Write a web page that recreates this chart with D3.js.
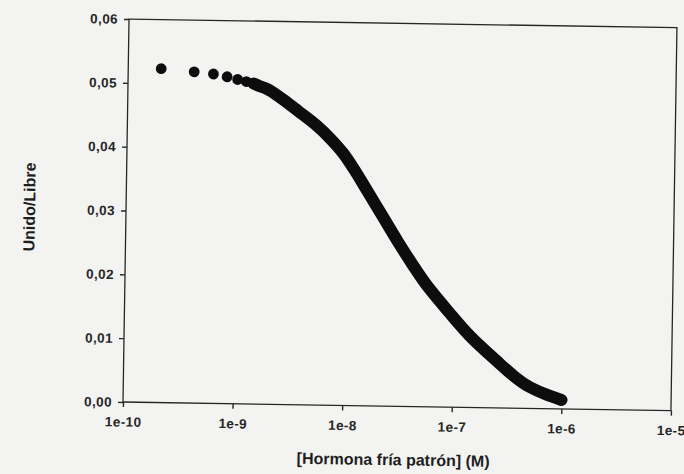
<!DOCTYPE html>
<html>
<head>
<meta charset="utf-8">
<script src="https://cdn.jsdelivr.net/npm/d3@7"></script>
<style>
  body { margin: 0; background: #f3f3f1; }
  svg { display: block; }
  .axis text { font-family: "Liberation Sans", Arial, sans-serif; font-size: 13.5px; font-weight: bold; letter-spacing: 0.4px; fill: #262626; }
  .axis path, .axis line { stroke: #262626; stroke-width: 1.4; }
  .title { font-family: "Liberation Sans", Arial, sans-serif; font-size: 16px; font-weight: bold; fill: #1e1e1e; }
</style>
</head>
<body>
<svg id="chart" width="684" height="474"></svg>
<script>
'use strict';

// concentration of cold hormone (M) and bound/free ratio
var concentration = [2e-10, 4e-10, 6e-10, 8e-10, 1e-9, 1.2e-9, 1.4e-9, 1.6e-9, 1.8e-9, 2e-9,
    2.6e-9, 3.6e-9, 5.4e-9, 7.2e-9, 9.4e-9, 1.2e-8, 1.6e-8, 2.2e-8, 3e-8, 4.2e-8,
    5.7e-8, 9e-8, 1.43e-7, 2.55e-7, 3.6e-7, 4.8e-7, 6.8e-7, 1e-6];
var boundFree = [0.0523, 0.0519, 0.0516, 0.0512, 0.0508, 0.0505, 0.0502, 0.0498, 0.0495, 0.0491,
    0.0478, 0.0460, 0.0437, 0.0417, 0.0395, 0.0369, 0.0335, 0.0297, 0.0260, 0.0222,
    0.0190, 0.0150, 0.0112, 0.0073, 0.0051, 0.0036, 0.0024, 0.0014];

var xTicks = [1e-10, 1e-9, 1e-8, 1e-7, 1e-6, 1e-5];
var xTickLabels = ["1e-10", "1e-9", "1e-8", "1e-7", "1e-6", "1e-5"];
var yTicks = [0, 0.01, 0.02, 0.03, 0.04, 0.05, 0.06];
var yTickLabels = ["0,00", "0,01", "0,02", "0,03", "0,04", "0,05", "0,06"];

var margin = {top: 19, left: 123},
    width = 548,
    height = 383;

var data = concentration.map(function(c, i) { return {x: c, y: boundFree[i]}; });

var x = d3.scaleLog()
    .domain([1e-10, 1e-5])
    .range([0, width]);

var y = d3.scaleLinear()
    .domain([0, 0.06])
    .range([height, 0]);

var xAxis = d3.axisBottom(x)
    .tickValues(xTicks)
    .tickFormat(function(d, i) { return xTickLabels[i]; })
    .tickSize(5)
    .tickPadding(10);

var yAxis = d3.axisLeft(y)
    .tickValues(yTicks)
    .tickFormat(function(d, i) { return yTickLabels[i]; })
    .tickSize(5)
    .tickPadding(6);

// the scanned page sits a little crooked, so turn the whole figure slightly
var svg = d3.select("#chart");
var chart = svg.append("g")
    .attr("transform", "rotate(0.9," + margin.left + "," + (margin.top + height) + ") translate(" + margin.left + "," + margin.top + ")");

// frame
chart.append("rect")
    .attr("width", width)
    .attr("height", height)
    .attr("fill", "none")
    .attr("stroke", "#262626")
    .attr("stroke-width", 1.3);

chart.append("g")
    .attr("class", "x axis")
    .attr("transform", "translate(0," + height + ")")
    .call(xAxis)
    .call(function(g) { g.select(".domain").remove(); });

chart.append("g")
    .attr("class", "y axis")
    .call(yAxis)
    .call(function(g) { g.select(".domain").remove(); });

// dense part of the series merges into a thick band
var line = d3.line()
    .x(function(d) { return x(d.x); })
    .y(function(d) { return y(d.y); })
    .curve(d3.curveCatmullRom);

chart.append("path")
    .datum(data.slice(6))
    .attr("d", line)
    .attr("fill", "none")
    .attr("stroke", "#0d0d0d")
    .attr("stroke-width", 12)
    .attr("stroke-linecap", "round");

chart.selectAll(".dot")
    .data(data)
  .enter().append("circle")
    .attr("class", "dot")
    .attr("cx", function(d) { return x(d.x); })
    .attr("cy", function(d) { return y(d.y); })
    .attr("r", 5.4)
    .attr("fill", "#0d0d0d");

chart.append("text")
    .attr("class", "title")
    .attr("x", width / 2 - 3)
    .attr("y", height + 59)
    .attr("text-anchor", "middle")
    .text("[Hormona fría patrón] (M)");

chart.append("text")
    .attr("class", "title")
    .attr("transform", "translate(-91," + (height / 2 - 2) + ") rotate(-90)")
    .attr("text-anchor", "middle")
    .text("Unido/Libre");
</script>
</body>
</html>
